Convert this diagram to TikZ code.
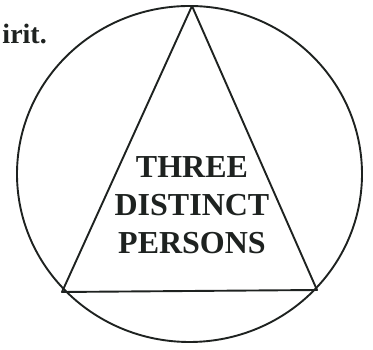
\documentclass[tikz,border=0pt]{standalone}
\usepackage{fontspec}
\setmainfont{Liberation Serif}
\usepackage{tikz}
\usetikzlibrary{positioning,calc}
\definecolor{encre}{RGB}{30,34,32}
\tikzset{
  trait/.style={draw=encre, line width=1.9pt, line join=round},
  titre/.style={align=center, text=encre, font=\bfseries\fontsize{32}{38}\selectfont, inner sep=0pt},
  bout/.style={text=encre, font=\bfseries\fontsize{28}{32}\selectfont, inner sep=0pt},
}
\begin{document}
\begin{tikzpicture}[x=1pt,y=1pt]
    \useasboundingbox (0,0) rectangle (373,350);
    \coordinate (o) at (189.5,176);
    \coordinate (haut) at (192,344);
    \coordinate (gauche) at (62,58);
    \coordinate (droite) at (317,60);
    \draw[trait] (o) ellipse [x radius=172.5, y radius=168];
    \draw[trait] (haut) -- (gauche) -- (droite) -- cycle;
    \node[titre] (txt) at (192,145) {THREE\\DISTINCT\\PERSONS};
    \node[bout, anchor=base east] (sp) at (47,306) {irit.};
  \end{tikzpicture}
\end{document}
